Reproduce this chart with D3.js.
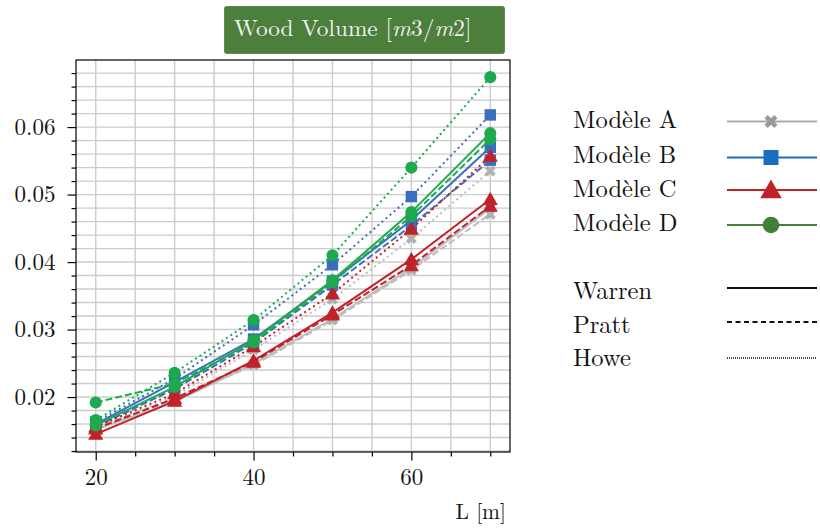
<!DOCTYPE html>
<html><head><meta charset="utf-8">
<script src="https://cdn.jsdelivr.net/npm/d3@7"></script>
<style>body{margin:0;background:#fff}svg{display:block}</style>
</head><body><div id="chart"></div>
<script>
const lengths = [20, 30, 40, 50, 60, 70];
const models = ["Modèle A", "Modèle B", "Modèle C", "Modèle D"];
const trusses = ["Warren", "Pratt", "Howe"];
// values per model, per truss type (Warren, Pratt, Howe)
const modelA = {
  Warren: [0.0152, 0.0193, 0.0249, 0.0316, 0.0391, 0.0480],
  Pratt:  [0.0155, 0.0196, 0.0247, 0.0314, 0.0388, 0.0471],
  Howe:   [0.0154, 0.0201, 0.0270, 0.0345, 0.0435, 0.0535]
};
const modelB = {
  Warren: [0.0160, 0.0222, 0.0286, 0.0372, 0.0462, 0.0570],
  Pratt:  [0.0156, 0.0212, 0.0280, 0.0366, 0.0454, 0.0551],
  Howe:   [0.0163, 0.0227, 0.0307, 0.0396, 0.0497, 0.0618]
};
const modelC = {
  Warren: [0.0145, 0.0194, 0.0254, 0.0325, 0.0404, 0.0493],
  Pratt:  [0.0153, 0.0198, 0.0252, 0.0322, 0.0395, 0.0483],
  Howe:   [0.0156, 0.0205, 0.0275, 0.0353, 0.0449, 0.0557]
};
const modelD = {
  Warren: [0.0158, 0.0215, 0.0284, 0.0373, 0.0474, 0.0591],
  Pratt:  [0.0192, 0.0220, 0.0281, 0.0370, 0.0468, 0.0582],
  Howe:   [0.0166, 0.0236, 0.0314, 0.0410, 0.0540, 0.0674]
};
const modelData = [modelA, modelB, modelC, modelD];
const yMajorTicks = [0.02, 0.03, 0.04, 0.05, 0.06];
const xMajorTicks = [20, 40, 60];
const title = "Wood Volume ";
const xLabel = "L [m]";

const FONT = '"Latin Modern Roman"';
const plotColors = ["#bdbdbd", "#3a6ebe", "#c0222a", "#1daa4e"];
const markerColors = ["#b0b0b0", "#3a6ebe", "#c0222a", "#1daa4e"];
const legendLineColors = ["#aaaaaa", "#1a6cbf", "#c0222a", "#4a7f3a"];
const legendMarkerColors = ["#999999", "#1a6cbf", "#c0222a", "#3f7f37"];
const dashes = {Warren: null, Pratt: "7,3", Howe: "2,3.3"};
const legendDashes = {Warren: null, Pratt: "5,3.5", Howe: "1,1"};

const W = 820, H = 529;
const L = 76, R = 510, T = 60, B = 452;
const svg = d3.select("#chart").append("svg").attr("width", W).attr("height", H);

const x = d3.scaleLinear().domain([17.5, 72.5]).range([L, R]);
const y = d3.scaleLinear().domain([0.01186, 0.06994]).range([B, T]);

const xAll = d3.range(20, 71, 5);
const yMinor = d3.range(0, 29).map(i => +(0.012 + i * 0.002).toFixed(3));

// grid
const grid = svg.append("g");
grid.selectAll(".vg").data(xAll).join("line")
  .attr("x1", d => x(d)).attr("x2", d => x(d)).attr("y1", T).attr("y2", B)
  .attr("stroke", "#cccccc").attr("stroke-width", 1.4);
grid.selectAll(".hg").data(yMinor).join("line")
  .attr("x1", L).attr("x2", R).attr("y1", d => y(d)).attr("y2", d => y(d))
  .attr("stroke", "#cccccc").attr("stroke-width", 1.4);

// axes
const xMinorAxis = d3.axisBottom(x).tickValues(xAll.filter(v => !xMajorTicks.includes(v))).tickSize(4.5).tickFormat("");
const xMajorAxis = d3.axisBottom(x).tickValues(xMajorTicks).tickSize(8.5).tickPadding(8).tickFormat(d3.format("d"));
const yMinorAxis = d3.axisLeft(y).tickValues(yMinor.filter(v => !yMajorTicks.some(m => Math.abs(m - v) < 1e-9))).tickSize(4.5).tickFormat("");
const yMajorAxis = d3.axisLeft(y).tickValues(yMajorTicks).tickSize(8.5).tickPadding(12).tickFormat(d3.format(".2f"));
function styleAxis(g) {
  g.attr("font-family", null).attr("font-size", null);
  g.select(".domain").remove();
  g.selectAll(".tick line").attr("stroke", "#000").attr("stroke-width", 1.2);
  g.selectAll("text").attr("fill", "#111").style("font-size", "23px").style("font-family", FONT);
}
svg.append("g").attr("transform", `translate(0,${B})`).call(xMinorAxis).call(styleAxis);
svg.append("g").attr("transform", `translate(0,${B})`).call(xMajorAxis).call(styleAxis);
svg.append("g").attr("transform", `translate(${L},0)`).call(yMinorAxis).call(styleAxis);
svg.append("g").attr("transform", `translate(${L},0)`).call(yMajorAxis).call(styleAxis);

const symbols = [
  d3.symbol().type(d3.symbolCross).size(75),
  d3.symbol().type(d3.symbolSquare).size(130),
  d3.symbol().type(d3.symbolTriangle).size(100),
  d3.symbol().type(d3.symbolCircle).size(115)
];
const rot = [45, 0, 0, 0];

const line = d3.line().x(d => x(d[0])).y(d => y(d[1]));
const plot = svg.append("g");
modelData.forEach((md, mi) => {
  trusses.forEach(t => {
    const pts = lengths.map((l, i) => [l, md[t][i]]);
    plot.append("path").datum(pts).attr("d", line)
      .attr("fill", "none").attr("stroke", plotColors[mi]).attr("stroke-width", 2)
      .attr("stroke-dasharray", dashes[t]);
    plot.selectAll(null).data(pts).join("path")
      .attr("d", symbols[mi])
      .attr("transform", d => `translate(${x(d[0])},${y(d[1]) + (mi === 2 ? 1.3 : 0)}) rotate(${rot[mi]})`)
      .attr("fill", markerColors[mi]);
  });
});

// frame
svg.append("rect").attr("x", L).attr("y", T).attr("width", R - L).attr("height", B - T)
  .attr("fill", "none").attr("stroke", "#000").attr("stroke-width", 1.2);

// title box
svg.append("rect").attr("x", 224.5).attr("y", 6.5).attr("width", 280).attr("height", 47)
  .attr("rx", 2).attr("fill", "#4b7f3b").attr("stroke", "#5d8c4e").attr("stroke-width", 1);
const tt = svg.append("text").attr("x", 234).attr("y", 36).attr("fill", "#f0f0f0")
  .style("font-family", FONT).style("font-size", "23.3px");
tt.append("tspan").text(title);
tt.append("tspan").text("[");
tt.append("tspan").style("font-style", "italic").text("m");
tt.append("tspan").text("3/");
tt.append("tspan").style("font-style", "italic").text("m");
tt.append("tspan").text("2]");

// x label
svg.append("text").attr("x", 506).attr("y", 519).attr("text-anchor", "end")
  .attr("fill", "#111").style("font-family", FONT).style("font-size", "21.5px").text(xLabel);

// legend: models
const legendLineY = [121.5, 157.5, 190, 225];
const legendTextY = [128, 162.5, 196.5, 230.5];
const bigSymbols = [
  d3.symbol().type(d3.symbolCross).size(105),
  d3.symbol().type(d3.symbolSquare).size(225),
  d3.symbol().type(d3.symbolTriangle).size(200),
  d3.symbol().type(d3.symbolCircle).size(215)
];
const lg = svg.append("g");
models.forEach((m, i) => {
  const yy = legendLineY[i];
  lg.append("text").attr("x", 573).attr("y", legendTextY[i]).attr("fill", "#111")
    .style("font-family", FONT).style("font-size", "24.5px").text(m);
  lg.append("line").attr("x1", 727).attr("x2", 817).attr("y1", yy).attr("y2", yy)
    .attr("stroke", legendLineColors[i]).attr("stroke-width", 2);
  lg.append("path").attr("d", bigSymbols[i])
    .attr("transform", `translate(771,${yy + (i === 2 ? 2 : 0)}) rotate(${rot[i]})`)
    .attr("fill", legendMarkerColors[i]);
});
const trussLineY = [288, 322, 358];
const trussTextY = [299, 333, 366];
trusses.forEach((t, i) => {
  const yy = trussLineY[i];
  lg.append("text").attr("x", 573).attr("y", trussTextY[i]).attr("fill", "#111")
    .style("font-family", FONT).style("font-size", "24.5px").text(t);
  lg.append("line").attr("x1", 727).attr("x2", 817).attr("y1", yy).attr("y2", yy)
    .attr("stroke", "#111").attr("stroke-width", t === "Howe" ? 1.5 : 2)
    .attr("stroke-dasharray", legendDashes[t]);
});
</script></body></html>
